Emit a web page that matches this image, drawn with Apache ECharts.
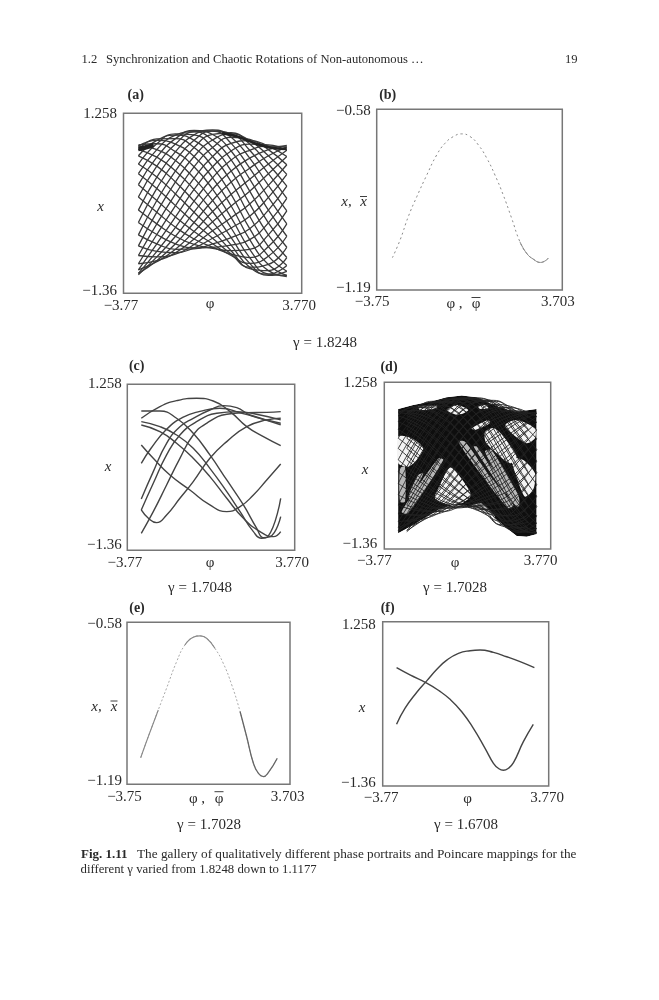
<!DOCTYPE html>
<html><head><meta charset="utf-8">
<style>html,body{margin:0;padding:0;background:#fff}#c{width:659px;height:1000px}</style>
<script src="https://cdn.jsdelivr.net/npm/echarts@6/dist/echarts.min.js"></script>
</head><body><div id="c"></div>
<script>
// ---------- values ----------
const latticePhi = [-3.14,-2.36,-1.57,-0.785,0,0.785,1.57,2.36,3.14];
const latticeOffsetPhi = [-2.75,-1.96,-1.18,-0.39,0.39,1.18,1.96,2.75];
const latticeCurves = [
[.80,.815,.70,.48,.155,-.26,-.72,-1.03,-1.116],
[.73,.62,.42,.15,-.17,-.55,-.925,-1.10,-1.04],
[.52,.33,.085,-.18,-.45,-.74,-1.0,-1.03,-.84],
[.22,-.01,-.25,-.46,-.64,-.81,-.925,-.82,-.53],
[-.15,-.35,-.53,-.65,-.705,-.74,-.72,-.51,-.16],
[-.51,-.64,-.72,-.715,-.64,-.55,-.42,-.15,.20],
[-.81,-.83,-.79,-.65,-.45,-.26,-.06,.21,.51],
[-1.02,-.90,-.72,-.46,-.17,.08,.30,.52,.72],
[-1.09,-.83,-.53,-.18,.155,.42,.605,.73,.79],
[-1.02,-.64,-.25,.15,.48,.71,.81,.80,.72],
[-.81,-.35,.085,.48,.76,.91,.88,.73,.51],
[-.51,-.01,.42,.76,.95,.975,.81,.52,.20],
[-.15,.33,.70,.945,1.015,.91,.605,.21,-.16],
[.22,.62,.89,1.01,.95,.71,.30,-.15,-.53],
[.52,.815,.96,.945,.76,.42,-.06,-.51,-.84],
[.73,.885,.89,.76,.48,.08,-.42,-.82,-1.04],
[.78,.73,.57,.315,-.01,-.41,-.84,-1.08,-1.10],
[.64,.49,.26,-.02,-.32,-.66,-.98,-1.08,-.955],
[.38,.165,-.085,-.33,-.56,-.79,-.98,-.94,-.69],
[.04,-.18,-.40,-.57,-.69,-.79,-.84,-.68,-.35],
[-.33,-.505,-.64,-.70,-.69,-.66,-.58,-.335,.02],
[-.67,-.75,-.77,-.70,-.56,-.41,-.24,.035,.37],
[-.93,-.885,-.77,-.57,-.32,-.09,.125,.38,.63],
[-1.07,-.885,-.64,-.33,-.01,.26,.46,.64,.77],
[-1.07,-.75,-.40,-.02,.32,.58,.72,.78,.77],
[-.93,-.505,-.085,.315,.63,.82,.86,.78,.63],
[-.67,-.18,.26,.63,.87,.96,.86,.64,.37],
[-.33,.165,.57,.865,1.0,.96,.72,.38,.02],
[.04,.49,.81,.99,1.0,.82,.46,.035,-.35],
[.38,.73,.94,.99,.87,.58,.125,-.335,-.69],
[.64,.865,.94,.865,.63,.26,-.24,-.68,-.955],
[.78,.865,.81,.63,.32,-.09,-.58,-.94,-1.10]
];
const aRidgeLeft = [[-3.14,.74],[-2.85,.76],[-2.5,.80]];
const aRidgeRight = [[.4,.97],[1.05,.92],[1.57,.85],[2.09,.79],[2.62,.75],[3.14,.74]];

const bFull = [[-3.12,-1.081],[-2.81,-1.021],[-2.48,-.942],[-2.14,-.875],[-1.74,-.802],[-1.34,-.734],[-1.01,-.695],[-.67,-.672],[-.34,-.663],[0,-.672],[.33,-.700],[.67,-.745],[1,-.802],[1.33,-.869],[1.67,-.948],[2,-1.027],[2.27,-1.066],[2.54,-1.086],[2.83,-1.097],[3.14,-1.083]];
const bDense = [[2,-1.027],[2.27,-1.066],[2.54,-1.086],[2.83,-1.097],[3.14,-1.083]];

const cCurves = [
[[-3.14,.722],[-2.30,.906],[-1.55,1.0],[-.65,1.037],[.10,.995],[.86,.827],[1.61,.590],[2.36,.433],[3.14,.291]],
[[-3.14,-.55],[-2.60,-.119],[-2.0,.328],[-1.40,.590],[-.80,.722],[-.05,.853],[.56,.922],[1.16,.890],[1.76,.774],[3.14,.643]],
[[-3.14,-.724],[-2.60,-.303],[-2.0,.144],[-1.40,.459],[-.65,.669],[.26,.801],[1.16,.827],[2.21,.774],[3.14,.696]],
[[-3.14,-.724],[-2.82,-.855],[-2.45,-.924],[-2.0,-.803],[-1.40,-.540],[-.80,-.277],[-.05,.091],[.71,.354],[1.61,.590],[2.51,.696],[3.14,.722]],
[[-3.14,-1.092],[-2.60,-.75],[-2.0,-.330],[-1.40,.091],[-.80,.459],[-.20,.643],[.71,.785],[1.61,.811],[2.51,.816],[3.14,.827]],
[[-3.14,.012],[-2.70,.249],[-2.0,.55],[-1.25,.74],[-.5,.83],[.4,.88],[1.4,.80],[2.2,.72],[3.14,.62]],
[[-3.14,.837],[-2.30,.837],[-1.55,.722],[-.80,.485],[-.05,.144],[.71,-.251],[1.46,-.645],[2.06,-1.013],[2.36,-1.160],[2.66,-1.145],[3.14,-.829]],
[[-3.14,.669],[-2.30,.590],[-1.55,.459],[-.80,.249],[-.05,-.067],[.71,-.435],[1.31,-.750],[1.91,-1.066],[2.28,-1.171],[2.56,-1.145],[3.14,-.540]],
[[-3.14,.617],[-2.30,.512],[-1.55,.328],[-.80,.091],[-.05,-.198],[.71,-.540],[1.46,-.855],[2.21,-1.066],[2.81,-1.145],[3.14,-1.066]],
[[-3.14,.301],[-2.60,.091],[-1.85,-.172],[-.95,-.409],[-.05,-.645],[.71,-.750],[1.31,-.671],[1.91,-.487],[2.51,-.251],[3.14,0]]
];

const dTopEdge = [[-3.14,.839],[-2.46,.902],[-1.70,.954],[-.94,1.022],[-.26,1.049],[.42,1.022],[1.02,.928],[1.62,.850],[2.23,.797],[3.12,.839]];
const dBottomEdge = [[3.12,-1.13],[2.68,-1.166],[2.23,-1.156],[1.78,-1.035],[1.17,-.852],[.57,-.747],[-.04,-.679],[-.64,-.669],[-1.25,-.732],[-1.85,-.852],[-2.46,-.983],[-3.14,-1.114]];
const dTopCorners = [[3.7,.839],[3.7,1.24],[-3.7,1.24],[-3.7,.839]];
const dBottomCorners = [[-3.7,-1.114],[-3.7,-1.34],[3.7,-1.34],[3.7,-1.13]];
const dOpenCells = [
[[-3.134,.404],[-2.53,.378],[-2.0,.221],[-2.30,.038],[-2.68,-.067],[-3.134,-.014]],
[[-.79,-.082],[-.34,-.224],[.158,-.512],[-.265,-.643],[-.869,-.66],[-1.473,-.564],[-1.247,-.355]],
[[.792,.483],[1.245,.535],[1.925,.274],[2.227,.090],[1.925,-.014],[1.245,.169],[.822,.326]],
[[1.698,.588],[2.227,.666],[3.057,.535],[3.057,.378],[2.68,.300],[2.0,.457]],
[[2.0,.064],[2.53,.038],[3.057,-.171],[2.98,-.433],[2.604,-.538],[2.272,-.276]],
[[-.944,.823],[-.49,.902],[.037,.823],[-.416,.745]],
[[-2.228,.876],[-1.398,.902],[-1.398,.85],[-2.152,.823]],
[[.188,.535],[.943,.666],[1.018,.614],[.339,.509]],
[[.49,.876],[.868,.902],[.943,.85],[.566,.839]]
];
const dSpeckledStrips = [
[[-.416,.326],[-.114,.326],[.868,-.145],[2.076,-.669],[1.849,-.721],[.641,-.198]],
[[.279,.247],[.43,.247],[1.819,-.46],[1.698,-.486]],
[[.792,.169],[1.094,.195],[2.302,-.512],[2.332,-.695],[1.999,-.617]],
[[-2.983,-.774],[-1.322,.064],[-1.096,.038],[-2.681,-.8]],
[[-3.058,-.093],[-2.832,-.067],[-2.832,-.617],[-3.058,-.617]],
[[-2.228,-.198],[-2.0,-.171],[-2.53,-.564],[-2.681,-.538]],
[[.113,-.695],[.641,-.643],[1.245,-.852],[.943,-.852]]
];

const eFull = [[-3.125,-1.09],[-2.775,-1.01],[-2.32,-.91],[-1.94,-.828],[-1.48,-.728],[-1.10,-.665],[-.72,-.636],[-.41,-.631],[-.11,-.640],[.27,-.678],[.65,-.734],[1.04,-.816],[1.42,-.916],[1.72,-1.01],[2.03,-1.111],[2.26,-1.149],[2.48,-1.161],[2.71,-1.146],[3.12,-1.092]];
const eLeftDense = [[-3.125,-1.09],[-2.775,-1.01],[-2.32,-.91]];
const eTop = [[-1.10,-.665],[-.72,-.636],[-.41,-.631],[-.11,-.640],[.27,-.678]];
const eRightDense = [[1.42,-.916],[1.72,-1.01],[2.03,-1.111],[2.26,-1.149],[2.48,-1.161],[2.71,-1.146],[3.12,-1.092]];

const fCurveA = [[-3.14,-.377],[-2.76,-.123],[-2.23,.13],[-1.77,.315],[-1.32,.495],[-.86,.645],[-.33,.754],[.20,.796],[.65,.807],[1.26,.769],[1.86,.700],[2.47,.621],[3.12,.525]];
const fCurveB = [[-3.14,.525],[-2.53,.41],[-1.77,.28],[-1.24,.165],[-.71,.021],[-.18,-.176],[.35,-.441],[.88,-.76],[1.26,-.999],[1.48,-1.078],[1.71,-1.11],[1.94,-1.078],[2.17,-.988],[2.62,-.654],[3.07,-.377]];

const xTickLabelsA = ['\u22123.77','3.770'];
const xTickLabelsB = ['\u22123.75','3.703'];
const yTickLabelsA = ['\u22121.36','1.258'];
const yTickLabelsB = ['\u22121.19','\u22120.58'];
const xRangeA = [-3.77,3.77], xRangeB = [-3.75,3.703];
const yRangeA = [-1.36,1.258], yRangeB = [-1.19,-0.58];
const gammas = ['\u03b3 = 1.8248','\u03b3 = 1.7048','\u03b3 = 1.7028','\u03b3 = 1.7028','\u03b3 = 1.6708'];

// ---------- layout ----------
const FONT = '"Liberation Serif","Times New Roman",serif';
const INK = '#2a2a2a';
const panels = [
 {l:123.5,t:113.3,w:178.2,h:180,  xr:xRangeA,yr:yRangeA,xl:xTickLabelsA,yl:yTickLabelsA,dx:2.5,ym:6.5,up:2.6,dn:1},
 {l:376.7,t:109.3,w:185.6,h:180.7,xr:xRangeB,yr:yRangeB,xl:xTickLabelsB,yl:yTickLabelsB,dx:4.5,ym:6,up:2,dn:2},
 {l:127.3,t:384.3,w:167.4,h:166,  xr:xRangeA,yr:yRangeA,xl:xTickLabelsA,yl:yTickLabelsA,dx:2.5,ym:5.6,up:5,dn:0},
 {l:384.3,t:382.3,w:166.4,h:166.7,xr:xRangeA,yr:yRangeA,xl:xTickLabelsA,yl:yTickLabelsA,dx:10,ym:7,up:5,dn:1},
 {l:127,  t:622.3,w:163,  h:162,  xr:xRangeB,yr:yRangeB,xl:xTickLabelsB,yl:yTickLabelsB,dx:2.5,ym:5,up:3.6,dn:2},
 {l:382.7,t:621.7,w:166,  h:164.3,xr:xRangeA,yr:yRangeA,xl:xTickLabelsA,yl:yTickLabelsA,dx:1.5,ym:7,up:3.3,dn:3}
];
const grid = panels.map(p=>({left:p.l,top:p.t,width:p.w,height:p.h,show:true,borderColor:'#777',borderWidth:1.5,backgroundColor:'#fff',containLabel:false}));
const labelBase = {color:INK,fontFamily:FONT,fontSize:15};
const xAxis = panels.map((p,i)=>({gridIndex:i,type:'value',min:p.xr[0],max:p.xr[1],
  axisLine:{show:false},axisTick:{show:false},splitLine:{show:false},
  axisLabel:{...labelBase,margin:5,padding:[0,p.dx*2,0,0],customValues:p.xr,
    formatter:v=>p.xl[p.xr.indexOf(v)]}}));
const yAxis = panels.map((p,i)=>({gridIndex:i,type:'value',min:p.yr[0],max:p.yr[1],
  axisLine:{show:false},axisTick:{show:false},splitLine:{show:false},
  axisLabel:{...labelBase,margin:p.ym,customValues:p.yr,
    formatter:v=>v===p.yr[0]?'{lo|'+p.yl[0]+'}':'{hi|'+p.yl[1]+'}',
    rich:{lo:{...labelBase,padding:[0,0,p.up*2,0]},hi:{...labelBase,padding:[p.dn*2,0,0,0]}}}}));

const series = [];
function line(i,data,color,width,extra,smooth){
  series.push({type:'line',xAxisIndex:i,yAxisIndex:i,data,showSymbol:false,smooth:smooth===undefined?0.5:smooth,silent:true,animation:false,
    lineStyle:{color,width,...(extra||{})}});
}
function polys(i,list,fill,smooth){
  series.push({type:'custom',xAxisIndex:i,yAxisIndex:i,silent:true,animation:false,clip:false,
    data:list.map((_,k)=>[0,0,k]),encode:{x:0,y:1},
    renderItem:(params,api)=>({type:'polygon',shape:{points:list[api.value(2)].map(pt=>api.coord(pt)),smooth},style:{fill}})});
}
// (a)
latticeCurves.forEach(c=>line(0,latticePhi.map((p,k)=>[p,c[k]]),'#3a3a3a',1.3));
line(0,aRidgeLeft,'#222',4.5);
line(0,aRidgeRight,'#222',2.6);
// (b)
line(1,bFull,'#8a8a8a',1,{type:[2,3]});
line(1,bDense,'#888',1);
// (c)
cCurves.forEach(c=>line(2,c,'#444',1.4));
// (d)
polys(3,[dTopEdge.concat(dBottomEdge)],'#0e0e0e',0);
polys(3,dSpeckledStrips,'#b8b8b8',0.25);
polys(3,dOpenCells,'#f4f4f4',0.25);
latticeCurves.forEach(c=>{
  line(3,latticePhi.map((p,k)=>[p,c[k]]),'#222',0.9);
  line(3,latticeOffsetPhi.map((p,k)=>[p,c[k]]),'#222',0.9);
});
polys(3,[dTopEdge.concat(dTopCorners)],'#fff',0);
polys(3,[dBottomEdge.concat(dBottomCorners)],'#fff',0);
// (e)
line(4,eFull,'#aaa',1,{type:[2,2]});
line(4,eLeftDense,'#888',1.1);
line(4,eTop,'#888',1.1);
line(4,eRightDense,'#666',1.3);
// (f)
line(5,fCurveA,'#444',1.4);
line(5,fCurveB,'#444',1.4);

function T(text,x,y,o){
  return {type:'text',x,y,silent:true,z:10,style:{text,fill:INK,fontFamily:FONT,fontSize:15,textAlign:'center',textVerticalAlign:'middle',...(o||{})}};
}
function Bar(x1,x2,y){return {type:'line',silent:true,z:10,shape:{x1,y1:y,x2,y2:y},style:{stroke:INK,lineWidth:0.9}};}
const bold={fontWeight:'bold',fontSize:14};
const it={fontStyle:'italic',fontSize:15};
const L={textAlign:'left'};
const graphic=[
 T('1.2',81.5,59.3,{...L,fontSize:12.6}),
 T('Synchronization and Chaotic Rotations of Non-autonomous \u2026',106,59.3,{...L,fontSize:12.6}),
 T('19',577.5,59.3,{textAlign:'right',fontSize:12.6}),
 T('(a)',135.7,95,bold),T('(b)',387.7,95,bold),T('(c)',136.7,366.7,bold),T('(d)',389,367,bold),T('(e)',137,608,bold),T('(f)',387.7,608,bold),
 T('x',100.7,206.7,it),T('x,',346.5,202,it),T('x',363.5,202,it),Bar(360,367,196.5),
 T('x',108,467,it),T('x',365,470,it),
 T('x,',96.5,706.7,it),T('x',114,706.7,it),Bar(110.5,117.5,701),T('x',362,708,it),
 T('\u03c6',210,304),T('\u03c6 ,',454.5,304),T('\u03c6',476,304),Bar(471.5,480.5,297.5),
 T('\u03c6',210,562.7),T('\u03c6',455,562.7),
 T('\u03c6 ,',197,799),T('\u03c6',219,799),Bar(214.5,223.5,791.7),T('\u03c6',467.7,799),
 T(gammas[0],325,343),T(gammas[1],200,588),T(gammas[2],455,588),T(gammas[3],209,825),T(gammas[4],466,825),
 T('Fig. 1.11',81,855,{...L,fontWeight:'bold',fontSize:13}),
 T('The gallery of qualitatively different phase portraits and Poincare mappings for the',137,855,{...L,fontSize:13.25}),
 T('different \u03b3 varied from 1.8248 down to 1.1177',80.5,870,{...L,fontSize:12.75})
];
const chart = echarts.init(document.getElementById('c'),null,{renderer:'canvas'});
chart.setOption({animation:false,backgroundColor:'#fff',grid,xAxis,yAxis,series,graphic});
</script></body></html>
